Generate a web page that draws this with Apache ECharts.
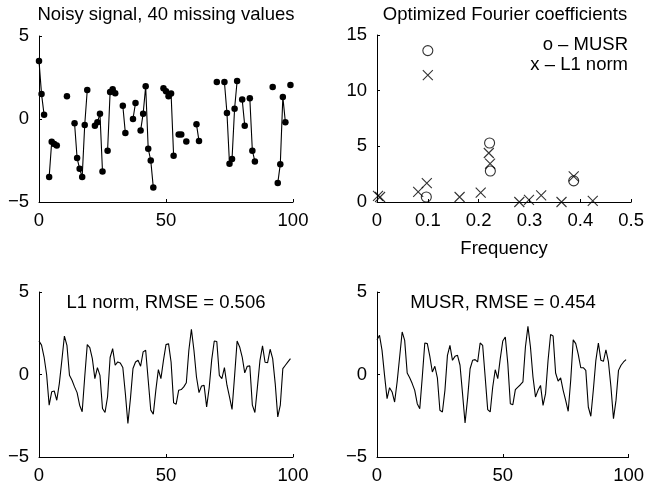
<!DOCTYPE html>
<html>
<head>
<meta charset="utf-8">
<script src="https://cdn.jsdelivr.net/npm/echarts@6/dist/echarts.min.js"></script>
<style>
  html, body { margin: 0; padding: 0; background: #fff; }
  #chart { width: 647px; height: 487px; }
</style>
</head>
<body>
<div id="chart"></div>
<script>
  // 含缺失值的噪声信号 (null = missing)
  const noisyY = [
    3.5, 1.5, 0.26, null, -3.5, -1.37, -1.5, -1.6, null, null,
    null, 1.37, null, null, -0.26, -2.35, -3.0, -3.5, -0.36, 1.75,
    null, null, -0.4, -0.2, 0.32, -3.16, null, -1.91, 1.63, 1.79,
    1.55, null, null, 0.8, -0.85, null, null, 0.0, 0.97, null,
    -0.7, 0.32, 1.97, -1.79, -2.5, -4.12, null, null, null, 1.85,
    1.67, 1.37, 1.53, -2.21, null, -0.93, -0.93, null, -1.35, null,
    null, null, -0.32, -1.33, null, null, null, null, null, null,
    2.23, null, null, 2.23, 0.36, -2.7, -2.41, 0.62, 2.29, null,
    1.17, -0.4, null, 1.25, -1.91, -2.56, null, null, null, null,
    null, null, 1.93, null, -3.86, -2.72, 1.33, -0.2, null, 2.05
  ];

  // Fourier 系数
  const musrFreq = [0.097, 0.1, 0.2215, 0.223, 0.387];
  const musrAmp = [0.45, 13.6, 5.3, 2.78, 1.9];
  const l1Freq = [0.002, 0.006, 0.081, 0.098, 0.1, 0.1625, 0.204, 0.22, 0.2225, 0.28, 0.299, 0.323, 0.363, 0.387, 0.4245];
  const l1Amp = [0.55, 0.45, 0.9, 1.7, 11.4, 0.45, 0.85, 4.4, 3.45, 0.0, 0.2, 0.6, 0.0, 2.3, 0.1];

  // 重构信号
  const l1Y = [
    2.03, 1.78, 1.06, 0.0, -1.86, -1.05, -1.0, -1.56, -0.55, 0.86,
    2.33, 1.77, -0.05, -0.35, -0.75, -1.1, -1.86, -2.26, -0.15, 1.81,
    1.63, 0.96, -0.25, 0.42, -0.05, -2.06, -2.3, -1.35, 1.03, 1.57,
    0.56, 0.76, 0.7, 0.42, -1.15, -2.97, -1.46, 0.36, 0.76, 0.86,
    0.5, 1.37, 1.47, -0.35, -2.16, -2.4, -0.95, 0.3, -0.25, 0.86,
    1.81, 1.87, 0.76, -1.72, -1.8, -0.95, -0.91, -0.75, -0.5, 1.47,
    2.74, 1.47, -0.15, -1.1, -0.7, -0.66, -1.96, -0.8, 0.9, 2.03,
    2.0, -0.05, -0.25, 0.42, -0.65, -1.35, -2.12, -0.1, 2.03, 1.67,
    1.06, 0.1, 0.5, 0.52, -1.86, -2.3, -0.75, 0.86, 1.73, 0.74,
    0.72, 1.53, 0.96, -0.55, -2.57, -1.86, 0.36, 0.56, 0.76, 0.96
  ];
  const musrY = [
    2.1, 2.37, 1.46, -0.05, -1.46, -0.8, -1.06, -1.67, -0.45, 1.06,
    2.58, 2.07, 0.09, -0.2, -0.55, -0.96, -1.77, -2.07, -0.15, 1.91,
    1.87, 1.1, 0.15, 0.5, -0.2, -2.17, -2.27, -0.96, 1.16, 1.77,
    0.86, 1.1, 1.16, 0.56, -1.16, -2.94, -1.46, 0.35, 0.86, 0.9,
    0.76, 1.91, 1.77, -0.15, -2.13, -2.27, -0.76, 0.29, -0.25, 0.96,
    2.03, 2.27, 0.66, -1.77, -1.83, -0.92, -0.76, -0.62, -0.45, 1.67,
    2.92, 1.67, -0.15, -1.36, -0.96, -0.66, -1.87, -1.16, 0.86, 2.42,
    2.33, 0.09, -0.4, -0.2, -0.96, -1.57, -2.23, -0.35, 2.1, 1.87,
    1.22, 0.41, 0.41, 0.25, -1.97, -2.53, -0.92, 0.86, 1.91, 0.86,
    0.8, 1.5, 0.76, -0.76, -2.68, -1.57, 0.25, 0.56, 0.76, 0.9
  ];

  const FONT = "'Liberation Sans', Arial, Helvetica, sans-serif";
  const FS = 18.5;
  const minus = (v) => String(v).replace("-", "\u2212");

  const axisBase = (gridIndex, min, max, interval) => ({
    type: "value",
    gridIndex: gridIndex,
    min: min,
    max: max,
    interval: interval,
    splitLine: { show: false },
    axisLine: { show: true, onZero: false, lineStyle: { color: "#000", width: 1 } },
    axisTick: { show: true, inside: true, length: 3, lineStyle: { color: "#000" } },
    axisLabel: { color: "#000", fontSize: FS, fontFamily: FONT, formatter: minus }
  });

  const xAxes = [
    axisBase(0, 0, 100, 50),
    Object.assign(axisBase(1, 0, 0.5, 0.1), {
      name: "Frequency",
      nameLocation: "middle",
      nameGap: 37,
      nameTextStyle: { color: "#000", fontSize: FS, fontFamily: FONT }
    }),
    axisBase(2, 0, 100, 50),
    axisBase(3, 0, 100, 50)
  ];
  xAxes.forEach((a) => { a.axisLabel.margin = 9; });

  const yAxes = [
    axisBase(0, -5, 5, 5),
    axisBase(1, 0, 15, 5),
    axisBase(2, -5, 5, 5),
    axisBase(3, -5, 5, 5)
  ];
  yAxes.forEach((a) => { a.axisLabel.margin = 10; });

  const crossPath = "path://M0,0L10,10M10,0L0,10";

  const chart = echarts.init(document.getElementById("chart"));
  const option = {
    backgroundColor: "#fff",
    animation: false,
    grid: [
      { left: 39, top: 36, width: 254, height: 166 },
      { left: 377, top: 35, width: 255, height: 167 },
      { left: 39, top: 292, width: 254, height: 165 },
      { left: 377, top: 292, width: 255, height: 165 }
    ],
    xAxis: xAxes,
    yAxis: yAxes,
    graphic: [
      { type: "text", x: 166, y: 15, style: { text: "Noisy signal, 40 missing values", fontSize: FS, fontFamily: FONT, fill: "#000", align: "center", verticalAlign: "middle" } },
      { type: "text", x: 505, y: 15, style: { text: "Optimized Fourier coefficients", fontSize: FS, fontFamily: FONT, fill: "#000", align: "center", verticalAlign: "middle" } },
      { type: "text", x: 628, y: 45, style: { text: "o \u2013 MUSR", fontSize: FS, fontFamily: FONT, fill: "#000", align: "right", verticalAlign: "middle" } },
      { type: "text", x: 628, y: 65, style: { text: "x \u2013 L1 norm", fontSize: FS, fontFamily: FONT, fill: "#000", align: "right", verticalAlign: "middle" } },
      { type: "text", x: 166, y: 303, style: { text: "L1 norm, RMSE = 0.506", fontSize: FS, fontFamily: FONT, fill: "#000", align: "center", verticalAlign: "middle" } },
      { type: "text", x: 503, y: 303, style: { text: "MUSR, RMSE = 0.454", fontSize: FS, fontFamily: FONT, fill: "#000", align: "center", verticalAlign: "middle" } }
    ],
    series: [
      {
        type: "line",
        xAxisIndex: 0,
        yAxisIndex: 0,
        data: noisyY.map((v, i) => [i, v === null ? "-" : v]),
        connectNulls: false,
        clip: false,
        symbol: "circle",
        symbolSize: 6.5,
        showSymbol: true,
        showAllSymbol: true,
        lineStyle: { color: "#000", width: 1.1 },
        itemStyle: { color: "#000" }
      },
      {
        type: "scatter",
        xAxisIndex: 1,
        yAxisIndex: 1,
        clip: false,
        data: l1Freq.map((f, i) => [f, l1Amp[i]]),
        symbol: crossPath,
        symbolSize: 10,
        itemStyle: { color: "none", borderColor: "#000", borderWidth: 1.1 }
      },
      {
        type: "scatter",
        xAxisIndex: 1,
        yAxisIndex: 1,
        clip: false,
        data: musrFreq.map((f, i) => [f, musrAmp[i]]),
        symbol: "circle",
        symbolSize: 10,
        itemStyle: { color: "none", borderColor: "#000", borderWidth: 1.1 }
      },
      {
        type: "line",
        xAxisIndex: 2,
        yAxisIndex: 2,
        data: l1Y.map((v, i) => [i, v]),
        showSymbol: false,
        lineStyle: { color: "#000", width: 1.1 }
      },
      {
        type: "line",
        xAxisIndex: 3,
        yAxisIndex: 3,
        data: musrY.map((v, i) => [i, v]),
        showSymbol: false,
        lineStyle: { color: "#000", width: 1.1 }
      }
    ]
  };
  chart.setOption(option);
</script>
</body>
</html>
